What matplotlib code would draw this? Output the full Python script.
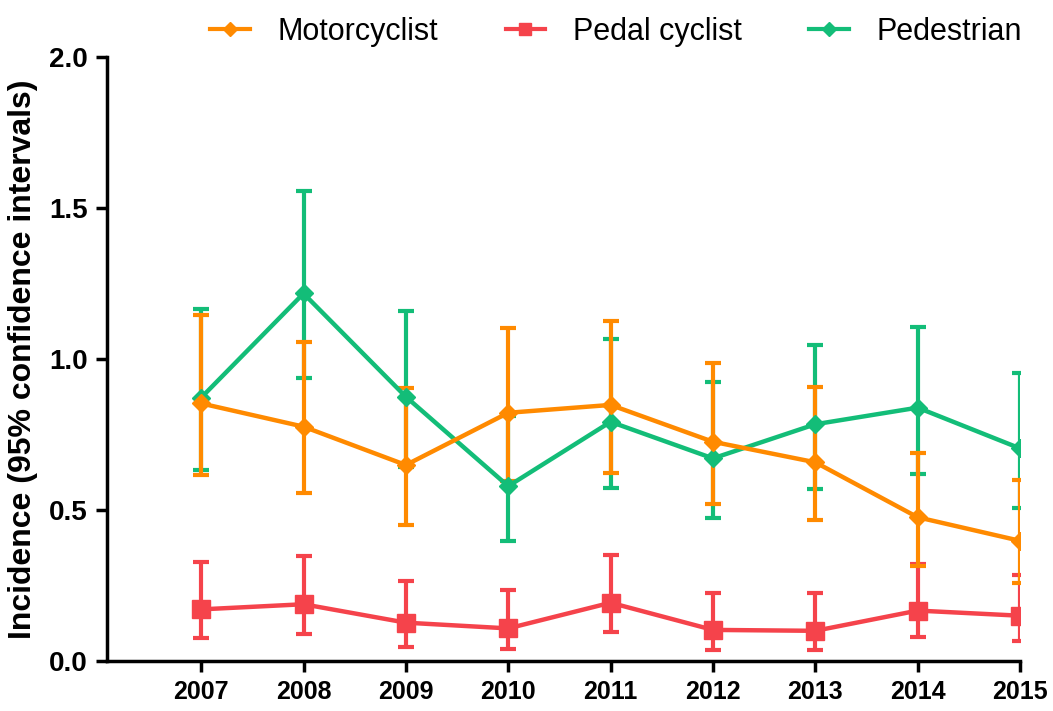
import matplotlib.pyplot as plt
from matplotlib.lines import Line2D

plt.rcParams['font.family'] = ['Liberation Sans', 'DejaVu Sans']

years = [2007, 2008, 2009, 2010, 2011, 2012, 2013, 2014, 2015]

# Motorcyclist: incidence, lower and upper 95% CI
moto = [0.853, 0.776, 0.649, 0.822, 0.848, 0.726, 0.658, 0.476, 0.398]
moto_lo = [0.616, 0.557, 0.449, 0.596, 0.621, 0.519, 0.467, 0.315, 0.257]
moto_hi = [1.146, 1.057, 0.903, 1.102, 1.126, 0.986, 0.906, 0.690, 0.599]

# Pedal cyclist
pedal = [0.171, 0.188, 0.127, 0.108, 0.193, 0.103, 0.100, 0.167, 0.150]
pedal_lo = [0.075, 0.088, 0.047, 0.039, 0.095, 0.036, 0.036, 0.078, 0.067]
pedal_hi = [0.329, 0.348, 0.265, 0.235, 0.351, 0.226, 0.224, 0.320, 0.285]

# Pedestrian
ped = [0.872, 1.217, 0.875, 0.579, 0.792, 0.671, 0.784, 0.839, 0.704]
ped_lo = [0.632, 0.936, 0.643, 0.398, 0.574, 0.475, 0.568, 0.618, 0.508]
ped_hi = [1.166, 1.556, 1.160, 0.810, 1.065, 0.923, 1.046, 1.107, 0.955]

c_moto = '#FF8A00'
c_pedal = '#F5434B'
c_ped = '#13BD78'


def err(v, lo, hi):
    return [[a - b for a, b in zip(v, lo)], [c - a for a, c in zip(v, hi)]]


fig = plt.figure(figsize=(10.53, 7.11), dpi=100)
ax = fig.add_axes([0.1016, 0.0703, 0.8671, 0.8495])

kw = dict(lw=3.2, elinewidth=3, capsize=5.5, capthick=3)
ax.errorbar(years, pedal, yerr=err(pedal, pedal_lo, pedal_hi), color=c_pedal,
            marker='s', ms=13, **kw)
ax.errorbar(years, ped, yerr=err(ped, ped_lo, ped_hi), color=c_ped,
            marker='D', ms=9, **kw)
ax.errorbar(years, moto, yerr=err(moto, moto_lo, moto_hi), color=c_moto,
            marker='D', ms=9, **kw)

ax.set_xlim(2006.08, 2015)
ax.set_ylim(0, 2.0)
ax.set_xticks(years)
ax.set_xticklabels([str(y) for y in years], fontsize=18, fontweight='bold',
                   family=['Liberation Sans Narrow', 'Liberation Sans'])
ax.set_yticks([0.0, 0.5, 1.0, 1.5, 2.0])
ax.set_yticklabels(['0.0', '0.5', '1.0', '1.5', '2.0'], fontsize=20, fontweight='bold')
ax.set_ylabel('Incidence (95% confidence intervals)', fontsize=23, fontweight='bold', labelpad=8)

for s in ['top', 'right']:
    ax.spines[s].set_visible(False)
for s in ['left', 'bottom']:
    ax.spines[s].set_linewidth(2.5)
ax.tick_params(width=2.5, length=8, pad=6)

handles = [
    Line2D([], [], color=c_moto, lw=3, marker='D', ms=7),
    Line2D([], [], color=c_pedal, lw=3, marker='s', ms=9),
    Line2D([], [], color=c_ped, lw=3, marker='D', ms=7),
]
fig.legend(handles, ['Motorcyclist', 'Pedal cyclist', 'Pedestrian'], loc='upper center',
           bbox_to_anchor=(0.585, 1.015), ncol=3, frameon=False, fontsize=22,
           handlelength=1.3, columnspacing=2.2, handletextpad=0.9)

fig.savefig('out.png', dpi=100)
